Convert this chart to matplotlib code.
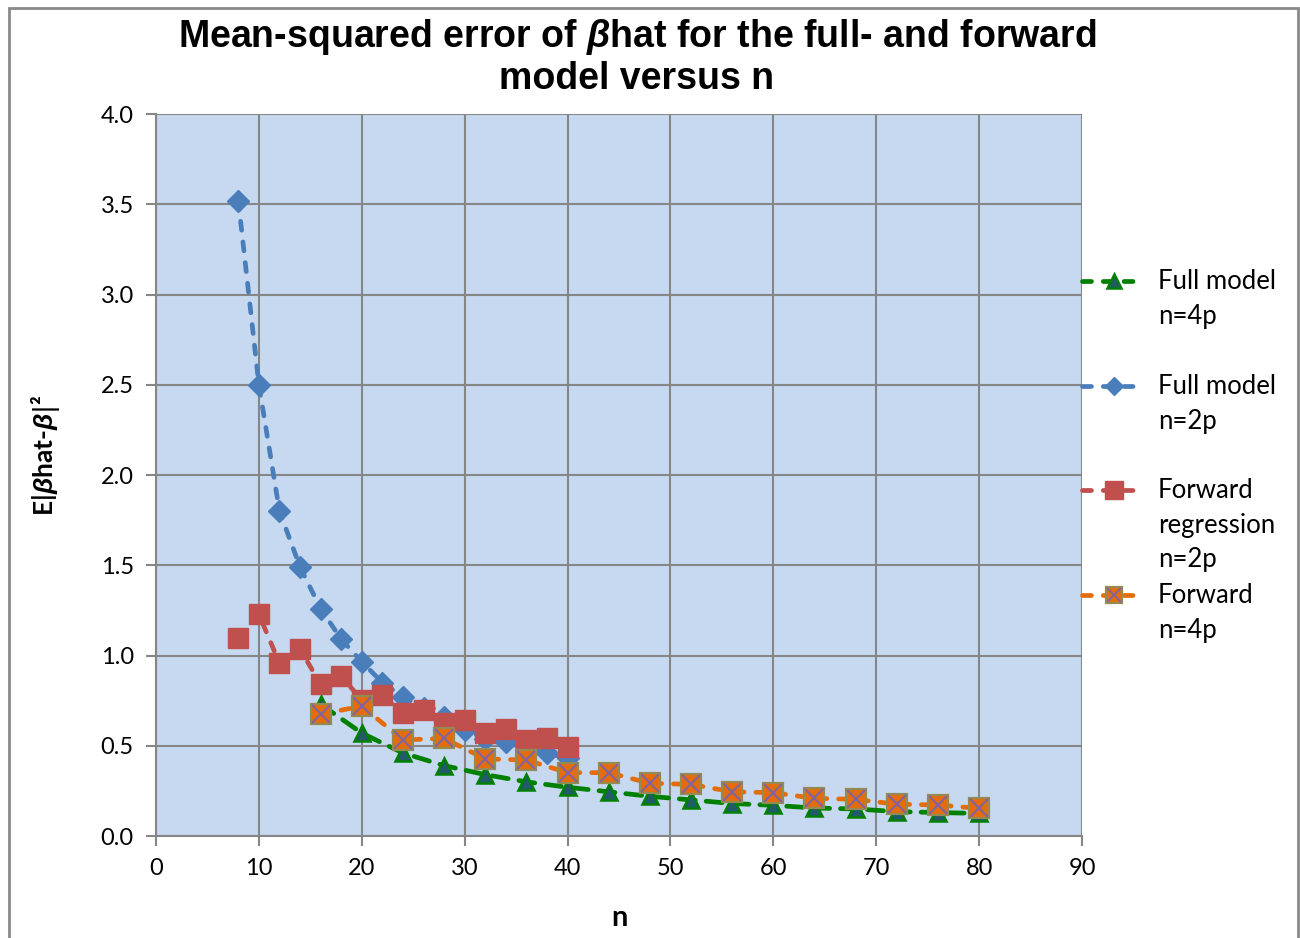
import matplotlib
matplotlib.use("Agg")
import matplotlib.pyplot as plt
from matplotlib.lines import Line2D
from matplotlib.patches import Rectangle

# ---------------- data ----------------
n_2p = [8, 10, 12, 14, 16, 18, 20, 22, 24, 26, 28, 30, 32, 34, 36, 38, 40]
mse_full_2p = [3.52, 2.50, 1.80, 1.49, 1.26, 1.09, 0.965, 0.85, 0.77, 0.71,
               0.66, 0.59, 0.54, 0.52, 0.48, 0.46, 0.43]
mse_fwd_2p = [1.095, 1.228, 0.957, 1.036, 0.84, 0.886, 0.753, 0.78, 0.68, 0.698,
              0.624, 0.643, 0.569, 0.591, 0.532, 0.541, 0.495]

n_4p = [16, 20, 24, 28, 32, 36, 40, 44, 48, 52, 56, 60, 64, 68, 72, 76, 80]
mse_full_4p = [0.73, 0.57, 0.46, 0.39, 0.34, 0.30, 0.27, 0.245, 0.22, 0.20,
               0.18, 0.17, 0.155, 0.15, 0.135, 0.13, 0.125]
mse_fwd_4p = [0.674, 0.72, 0.532, 0.541, 0.427, 0.421, 0.351, 0.351, 0.292, 0.286,
              0.245, 0.24, 0.209, 0.203, 0.176, 0.172, 0.153]

labels = ["Full model\nn=4p", "Full model\nn=2p",
          "Forward\nregression\nn=2p", "Forward\nn=4p"]

x_ticks = list(range(0, 91, 10))
y_ticks = [0.0, 0.5, 1.0, 1.5, 2.0, 2.5, 3.0, 3.5, 4.0]

# ---------------- style ----------------
W, H = 1300, 938
GRID = "#868686"
BODY_FONT = ["Lato", "DejaVu Sans"]
plt.rcParams["mathtext.fontset"] = "custom"
plt.rcParams["mathtext.it"] = "Liberation Sans:italic:bold"


def px(x, y):
    """pixel position (from top-left) -> figure fraction"""
    return x / W, 1 - y / H


fig = plt.figure(figsize=(W / 100, H / 100), dpi=100)
ax = fig.add_axes([156 / W, (H - 836) / H, 926 / W, 722 / H])
ax.set_facecolor("#C6D9F0")

short_dash = (0, (1.9, 2.5))
long_dash = (0, (3.4, 2.3))
lw = 3.4

series = [
    dict(x=n_4p, y=mse_full_4p, color="#008000", ls=long_dash, marker="^",
         mfc="#215A69", mec="#008000", ms=12, mew=1.8),
    dict(x=n_2p, y=mse_full_2p, color="#4A7EBB", ls=short_dash, marker="D",
         mfc="#4A7EBB", mec="#4A7EBB", ms=11, mew=1),
    dict(x=n_2p, y=mse_fwd_2p, color="#C0504D", ls=short_dash, marker="s",
         mfc="#C0504D", mec="#C0504D", ms=14.5, mew=1),
    dict(x=n_4p, y=mse_fwd_4p, color="#E46C0A", ls=short_dash, marker="s",
         mfc="#E46C0A", mec="#948A54", ms=14, mew=1.6),
]

for i, s in enumerate(series):
    ax.plot(s["x"], s["y"], color=s["color"], linestyle=s["ls"], lw=lw,
            dash_capstyle="round", marker=s["marker"], mfc=s["mfc"],
            mec=s["mec"], ms=s["ms"], mew=s["mew"], zorder=3 + i)
# purple cross on the forward n=4p squares
ax.plot(n_4p, mse_fwd_4p, linestyle="none", marker="x", ms=12.5, mew=1.5,
        color="#8064A2", zorder=7)

ax.set_xlim(0, 90)
ax.set_ylim(0, 4)
ax.set_xticks(x_ticks)
ax.set_yticks(y_ticks)
ax.set_yticklabels(["%.1f" % v for v in y_ticks])
ax.grid(True, color=GRID, lw=1.5)
ax.set_axisbelow(True)
for sp in ax.spines.values():
    sp.set_visible(False)
for side in ("left", "bottom"):
    ax.spines[side].set_visible(True)
    ax.spines[side].set_color(GRID)
    ax.spines[side].set_linewidth(1.5)
ax.tick_params(direction="out", length=7, width=1.5, color=GRID,
               labelsize=17, pad=9)
for t in ax.get_xticklabels() + ax.get_yticklabels():
    t.set_family(BODY_FONT)

# title and axis labels
fig.text(*px(637, 57),
         "Mean-squared error of $\\mathit{\\beta}$hat for the full- and forward\nmodel versus n",
         ha="center", va="center", fontsize=27, fontweight="bold",
         family=["Liberation Sans Narrow", "Liberation Sans"], linespacing=1.12)
fig.text(*px(45, 455), "E|$\\mathit{\\beta}$hat-$\\mathit{\\beta|}$²",
         rotation=90, ha="center", va="center", fontsize=19,
         fontweight="bold", family=BODY_FONT)
fig.text(*px(619, 918), "n", ha="center", va="center", fontsize=21,
         fontweight="bold", family=BODY_FONT)

# legend on the right
legend_y = [281, 386, 490, 595]
for s, lab, y0 in zip(series, labels, legend_y):
    xs = [1082 / W, 1142 / W]
    ys = [1 - y0 / H] * 2
    fig.add_artist(Line2D(xs, ys, color=s["color"], linestyle=short_dash,
                          lw=lw, dash_capstyle="round"))
    fig.add_artist(Line2D([1114 / W], [1 - y0 / H], marker=s["marker"],
                          mfc=s["mfc"], mec=s["mec"], ms=s["ms"] * 0.85,
                          mew=s["mew"], linestyle="none"))
    if s["mec"] == "#948A54":
        fig.add_artist(Line2D([1114 / W], [1 - y0 / H], marker="x", ms=10.5,
                              mew=1.3, color="#8064A2", linestyle="none"))
    for k, line in enumerate(lab.split("\n")):
        fig.text(*px(1158, y0 + 35 * k), line, ha="left", va="center",
                 fontsize=18.5, family=BODY_FONT)

# chart border
fig.add_artist(Rectangle((9 / W, -0.05), 1289 / W, 1.05 - 8 / H,
                         fill=False, edgecolor="#898989", lw=2,
                         transform=fig.transFigure))

fig.savefig("out.png", dpi=100)
